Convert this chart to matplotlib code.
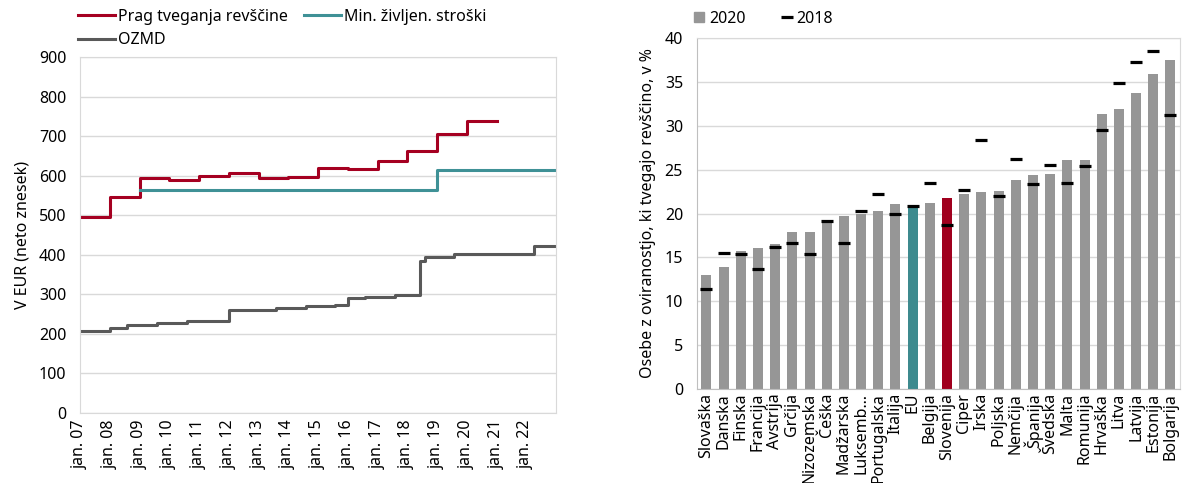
import numpy as np
import matplotlib
matplotlib.use("Agg")
import matplotlib.pyplot as plt
from matplotlib.lines import Line2D

plt.rcParams["font.family"] = ["Noto Sans", "DejaVu Sans"]
plt.rcParams["font.size"] = 11.5

# left panel: step series, x = months since jan 2007
prag_start = [0, 12, 24, 36, 48, 60, 72, 84, 96, 108, 120, 132, 144, 156]
prag_val = [496, 546, 594, 588, 600, 607, 593, 596, 618, 617, 637, 663, 705, 739]
prag_end = 168

min_start = [24, 144]
min_val = [562.5, 613.2]
min_end = 192

ozmd_start = [0, 12, 19, 31, 43, 55, 60, 79, 91, 103, 108, 115, 127, 137, 139, 151, 183]
ozmd_val = [206, 214, 222, 227, 231, 233, 260, 266, 270, 273, 290, 294, 298, 385, 393, 402, 422]
ozmd_end = 192

year_labels = [f"jan. {y:02d}" for y in range(7, 23)]

# right panel
countries = ["Slovaška", "Danska", "Finska", "Francija", "Avstrija", "Grčija",
             "Nizozemska", "Češka", "Madžarska", "Luksemb…", "Portugalska",
             "Italija", "EU", "Belgija", "Slovenija", "Ciper", "Irska", "Poljska",
             "Nemčija", "Španija", "Švedska", "Malta", "Romunija", "Hrvaška",
             "Litva", "Latvija", "Estonija", "Bolgarija"]
v2020 = [13.0, 13.9, 15.7, 16.1, 16.5, 17.9, 17.9, 19.0, 19.7, 19.9, 20.3,
         21.1, 20.8, 21.2, 21.8, 22.2, 22.4, 22.6, 23.8, 24.4, 24.5, 26.1,
         26.1, 31.4, 31.9, 33.7, 35.9, 37.5]
v2018 = [11.4, 15.5, 15.4, 13.7, 16.2, 16.6, 15.4, 19.1, 16.6, 20.3, 22.2,
         20.0, 20.9, 23.5, 18.7, 22.7, 28.4, 22.0, 26.2, 23.4, 25.5, 23.5,
         25.4, 29.5, 34.9, 37.3, 38.5, 31.2]

RED = "#a50021"
TEAL = "#3f9196"
DGRAY = "#595959"
BGRAY = "#969696"
GRID = "#d9d9d9"


def steps(start, val, end):
    return np.append(start, end), np.append(val, val[-1])


fig = plt.figure(figsize=(11.91, 4.83), dpi=100)
ax = fig.add_axes([0.0672, 0.1455, 0.3997, 0.7365])
axr = fig.add_axes([0.5852, 0.1952, 0.4055, 0.7255])

x, y = steps(prag_start, prag_val, prag_end)
l1, = ax.step(x, y, where="post", color=RED, lw=2.2)
x, y = steps(min_start, min_val, min_end)
l2, = ax.step(x, y, where="post", color=TEAL, lw=2.2)
x, y = steps(ozmd_start, ozmd_val, ozmd_end)
l3, = ax.step(x, y, where="post", color=DGRAY, lw=2.2)

ax.set_xlim(0, 192)
ax.set_ylim(0, 900)
ax.set_yticks(range(0, 901, 100))
ax.set_xticks(np.arange(len(year_labels)) * 12)
ax.set_xticklabels(year_labels, rotation=90)
ax.tick_params(axis="both", length=0)
ax.tick_params(axis="y", pad=10)
ax.tick_params(axis="x", pad=5)
ax.grid(axis="y", color=GRID, lw=1)
ax.set_axisbelow(True)
for s in ax.spines.values():
    s.set_color(GRID)
ax.set_ylabel("V EUR (neto znesek)", labelpad=6)
ax.legend([l1, l3, l2], ["Prag tveganja revščine", "OZMD", "Min. življen. stroški"],
          ncol=2, loc="upper left", bbox_to_anchor=(78 / 1191, 1 - 9 / 483),
          bbox_transform=fig.transFigure, frameon=False,
          handlelength=2.3, handletextpad=0.2, columnspacing=1.0,
          borderaxespad=0, borderpad=0, labelspacing=0.45)

# right panel
pos = np.arange(len(countries))
colors = [BGRAY] * len(countries)
colors[countries.index("EU")] = "#3d8a8e"
colors[countries.index("Slovenija")] = "#a0001e"
axr.bar(pos, v2020, width=0.58, color=colors, zorder=2)
axr.plot(pos, v2018, ls="none", marker="_", color="black", ms=8.5, mew=2.3, zorder=3)
axr.set_xlim(-0.55, len(countries) - 0.45)
axr.set_ylim(0, 40)
axr.set_yticks(range(0, 41, 5))
axr.set_xticks(pos)
axr.set_xticklabels(countries, rotation=90)
axr.tick_params(axis="both", length=0)
axr.tick_params(axis="y", pad=10)
axr.tick_params(axis="x", pad=3)
axr.grid(axis="y", color=GRID, lw=1)
axr.set_axisbelow(True)
for s in axr.spines.values():
    s.set_color(GRID)
axr.spines["left"].set_color("#bfbfbf")
axr.spines["bottom"].set_color("#bfbfbf")
axr.set_ylabel("Osebe z oviranostjo, ki tvegajo revščino, v %", labelpad=6)
h1 = Line2D([], [], ls="none", marker="s", color=BGRAY, ms=7)
h2 = Line2D([], [], ls="none", marker="_", color="black", ms=8, mew=2.3)
axr.legend([h1, h2], ["2020", "2018"], ncol=2, loc="upper left",
           bbox_to_anchor=(693 / 1191, 1 - 11 / 483), bbox_transform=fig.transFigure,
           frameon=False, handlelength=0.8, handletextpad=0.2, columnspacing=2.2,
           borderaxespad=0, borderpad=0)

fig.savefig("out.png", dpi=100)
